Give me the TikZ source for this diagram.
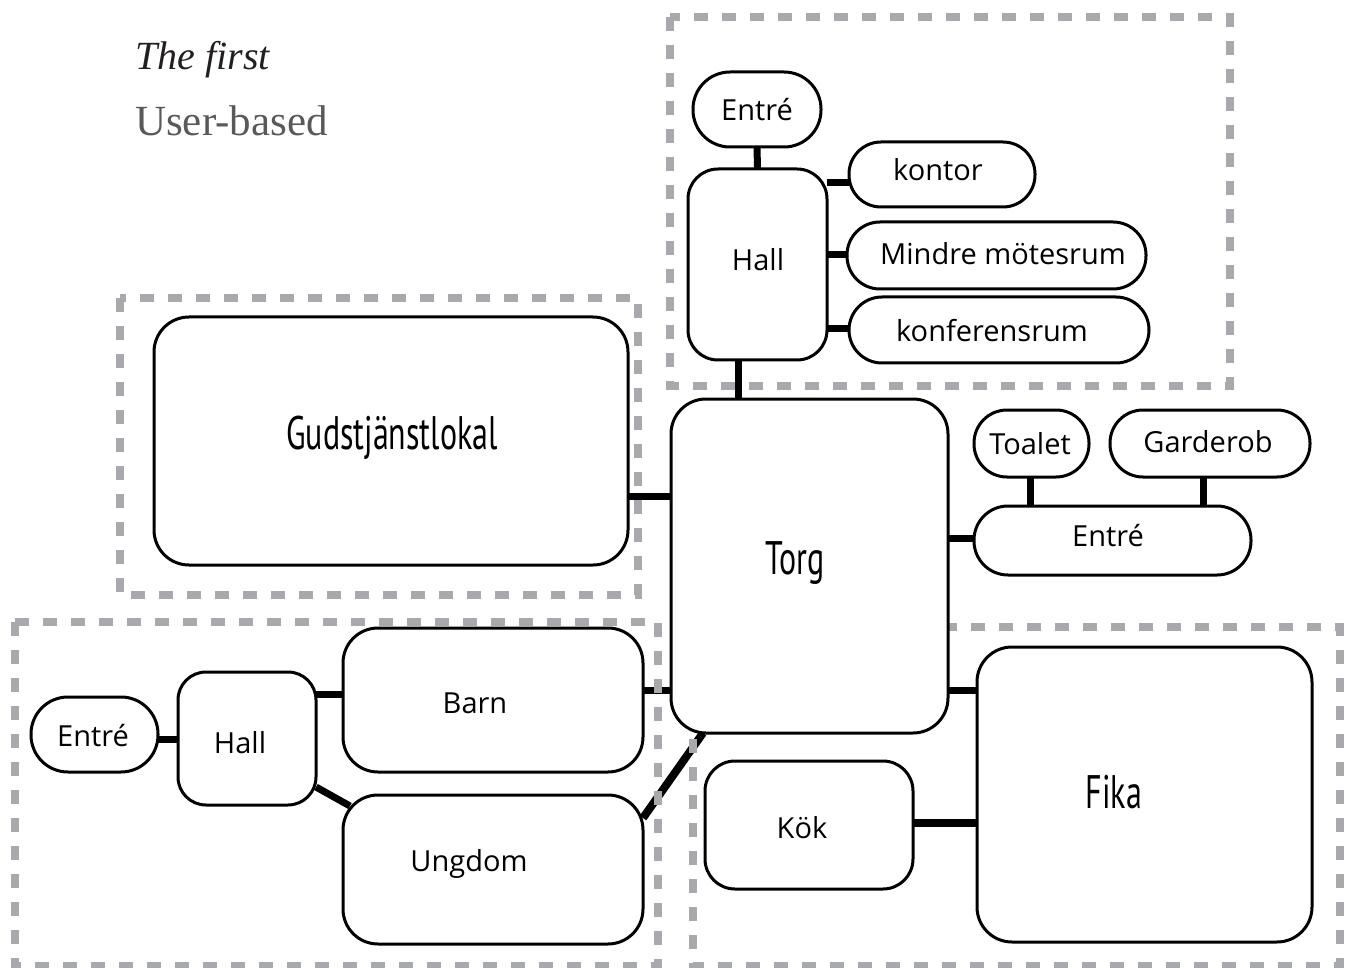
\documentclass[tikz,border=0pt]{standalone}
\usepackage{fontspec}
\setmainfont{Liberation Serif}
\newfontfamily\nf{Open Sans}
\newfontfamily\cf[FakeStretch=0.68]{PT Sans}
\definecolor{dashgray}{HTML}{A7A9AC}
\definecolor{subgray}{HTML}{58595B}
\definecolor{inkc}{HTML}{231F20}
\begin{document}
\begin{tikzpicture}[x=1pt,y=-1pt,
  box/.style={draw=black, line width=3pt, fill=white, inner sep=0pt},
  lab/.style={font=\nf\fontsize{29}{34}\selectfont, text=black},
  clab/.style={font=\cf\fontsize{47}{54}\selectfont, text=black},
  conn/.style={draw=black, line width=7pt},
  zone/.style={draw=dashgray, line width=8pt, dash pattern=on 14pt off 14pt}]
\useasboundingbox (0,0) rectangle (1350,968);
% title
\node[anchor=base west, inner sep=0pt, font=\itshape\fontsize{40}{48}\selectfont, text=inkc] (title) at (135,70) {The first};
\node[anchor=base west, inner sep=0pt, font=\fontsize{43}{50}\selectfont, text=subgray] (sub) at (135,136) {User-based};
% node centres
\path
  (757,109.5) coordinate (pEntT)
  (757.5,264.5) coordinate (pHallT)
  (942,174.5) coordinate (pKontor)
  (996.5,255.5) coordinate (pMindre)
  (999,330) coordinate (pKonf)
  (809.5,566) coordinate (pTorg)
  (1031.5,443.5) coordinate (pToalet)
  (1210,443.5) coordinate (pGard)
  (1112.5,540.5) coordinate (pEntR)
  (391,441) coordinate (pGuds)
  (94.5,734.5) coordinate (pEntL)
  (247,738.5) coordinate (pHallL)
  (493,700) coordinate (pBarn)
  (493,869.5) coordinate (pUng)
  (809,825) coordinate (pKok)
  (1144.5,794.5) coordinate (pFika);
% node frames (anchors)
\begin{scope}[every node/.style={inner sep=0pt, outer sep=0pt}]
\path
  node[minimum width=128pt, minimum height=75pt] (entT) at (pEntT) {}
  node[minimum width=139pt, minimum height=191pt] (hallT) at (pHallT) {}
  node[minimum width=186pt, minimum height=65pt] (kontor) at (pKontor) {}
  node[minimum width=299pt, minimum height=67pt] (mindre) at (pMindre) {}
  node[minimum width=300pt, minimum height=66pt] (konf) at (pKonf) {}
  node[minimum width=277pt, minimum height=334pt] (torg) at (pTorg) {}
  node[minimum width=115pt, minimum height=67pt] (toalet) at (pToalet) {}
  node[minimum width=200pt, minimum height=67pt] (gard) at (pGard) {}
  node[minimum width=277pt, minimum height=69pt] (entR) at (pEntR) {}
  node[minimum width=474pt, minimum height=248pt] (guds) at (pGuds) {}
  node[minimum width=127pt, minimum height=75pt] (entL) at (pEntL) {}
  node[minimum width=138pt, minimum height=133pt] (hallL) at (pHallL) {}
  node[minimum width=300pt, minimum height=144pt] (barn) at (pBarn) {}
  node[minimum width=300pt, minimum height=149pt] (ung) at (pUng) {}
  node[minimum width=208pt, minimum height=128pt] (kok) at (pKok) {}
  node[minimum width=335pt, minimum height=295pt] (fika) at (pFika) {};
\end{scope}
% connectors
\draw[conn] (entT.south) -- (hallT.north);
\draw[conn] (hallT.east |- 0,183) -- (kontor.west |- 0,183);
\draw[conn] (hallT.east |- 0,255) -- (mindre.west |- 0,255);
\draw[conn] (hallT.east |- 0,329) -- (konf.west |- 0,329);
\draw[conn] (hallT.south -| 738,0) -- (torg.north -| 738,0);
\draw[conn] (guds.east |- 0,496) -- (torg.west |- 0,496);
\draw[conn] (torg.east |- 0,538) -- (entR.west |- 0,538);
\draw[conn] (toalet.south -| 1030,0) -- (entR.north -| 1030,0);
\draw[conn] (gard.south -| 1203,0) -- (entR.north -| 1203,0);
\draw[conn] (torg.east |- 0,690) -- (fika.west |- 0,690);
\draw[conn] (barn.east |- 0,690) -- (torg.west |- 0,690);
\draw[conn, line width=8pt] ([xshift=32pt]torg.south west) -- ([yshift=-23pt]ung.north east);
\draw[conn, line width=8pt] (kok.east |- 0,823) -- (fika.west |- 0,823);
\draw[conn] (hallL.east |- 0,694) -- (barn.west |- 0,694);
\draw[conn] ([yshift=18pt]hallL.south east) -- ([xshift=7pt,yshift=-11pt]ung.north west);
\draw[conn] (entL.east |- 0,739) -- (hallL.west |- 0,739);
% dashed zones
\draw[zone] (670,17) rectangle (1230,386);
\draw[zone] (120,298) rectangle (638,595);
\draw[zone] (15,622) rectangle (658,966);
\draw[zone] (693,627) rectangle (1340,966);
% visible boxes
\draw[box, rounded corners=37pt] (entT.south west) rectangle (entT.north east);
\draw[box, rounded corners=30pt] (hallT.south west) rectangle (hallT.north east);
\draw[box, rounded corners=32pt] (kontor.south west) rectangle (kontor.north east);
\draw[box, rounded corners=33pt] (mindre.south west) rectangle (mindre.north east);
\draw[box, rounded corners=33pt] (konf.south west) rectangle (konf.north east);
\draw[box, rounded corners=35pt] (torg.south west) rectangle (torg.north east);
\draw[box, rounded corners=33pt] (toalet.south west) rectangle (toalet.north east);
\draw[box, rounded corners=33pt] (gard.south west) rectangle (gard.north east);
\draw[box, rounded corners=34pt] (entR.south west) rectangle (entR.north east);
\draw[box, rounded corners=35pt] (guds.south west) rectangle (guds.north east);
\draw[box, rounded corners=37pt] (entL.south west) rectangle (entL.north east);
\draw[box, rounded corners=28pt] (hallL.south west) rectangle (hallL.north east);
\draw[box, rounded corners=35pt] (barn.south west) rectangle (barn.north east);
\draw[box, rounded corners=35pt] (ung.south west) rectangle (ung.north east);
\draw[box, rounded corners=30pt] (kok.south west) rectangle (kok.north east);
\draw[box, rounded corners=35pt] (fika.south west) rectangle (fika.north east);
% labels
\node[lab] (tEntT) at (757,110) {Entré};
\node[lab] (tHallT) at (758,260) {Hall};
\node[lab] (tKontor) at (938,170) {kontor};
\node[lab] (tMindre) at (1003,254) {Mindre mötesrum};
\node[lab] (tKonf) at (992,331) {konferensrum};
\node[clab] (tTorg) at (795,563) {Torg};
\node[lab] (tToalet) at (1030,444) {Toalet};
\node[lab] (tGard) at (1208,442) {Garderob};
\node[lab] (tEntR) at (1108,536) {Entré};
\node[clab] (tGuds) at (392,438) {Gudstjänstlokal};
\node[lab] (tEntL) at (93,736) {Entré};
\node[lab] (tHallL) at (240,743) {Hall};
\node[lab] (tBarn) at (475,703) {Barn};
\node[lab] (tUng) at (469,864) {Ungdom};
\node[lab] (tKok) at (802,828) {Kök};
\node[clab] (tFika) at (1114,792) {Fika};
\end{tikzpicture}
\end{document}
